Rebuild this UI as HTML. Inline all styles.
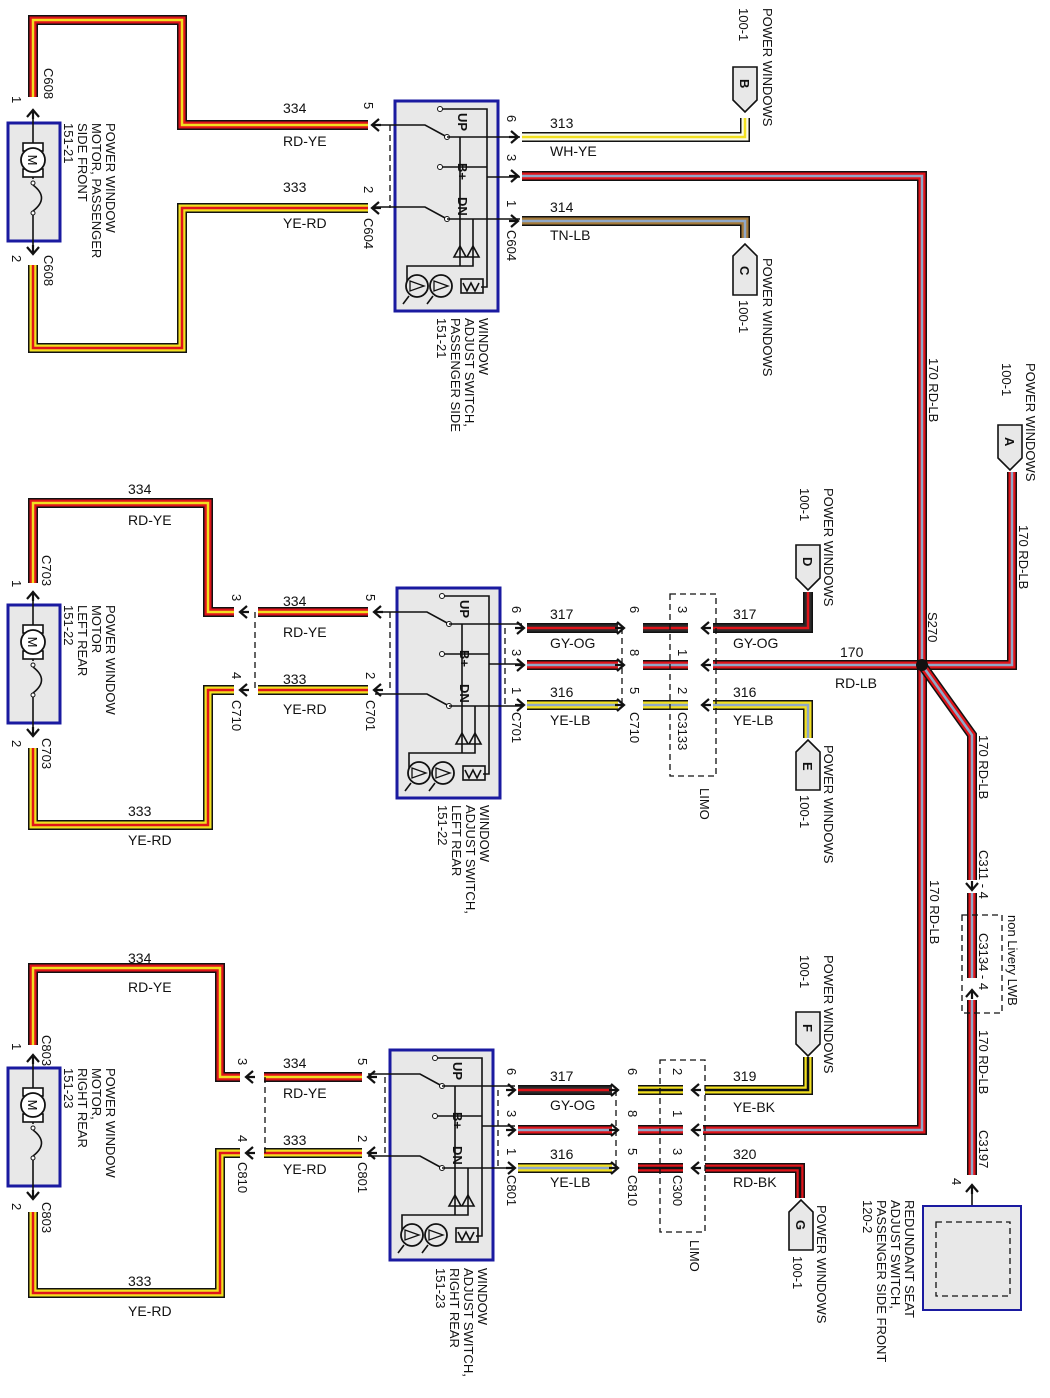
<!DOCTYPE html>
<html><head><meta charset="utf-8">
<style>
html,body{margin:0;padding:0;background:#fff;}
svg{display:block;font-family:"Liberation Sans",Arial,sans-serif;}
.k{fill:none;stroke:#111;stroke-width:10;stroke-linejoin:miter}
.rd{fill:none;stroke:#e0141a;stroke-width:7}
.ye{fill:none;stroke:#f2e020;stroke-width:7}
.wh{fill:none;stroke:#fbfbe8;stroke-width:7}
.tn{fill:none;stroke:#a47a3a;stroke-width:7}
.gy{fill:none;stroke:#2a2a2a;stroke-width:7}
.bk{fill:none;stroke:#111;stroke-width:7}
.sy{fill:none;stroke:#f2e020;stroke-width:2.5}
.sr{fill:none;stroke:#e0141a;stroke-width:2.5}
.sl{fill:none;stroke:#8fa8c8;stroke-width:2.5}
.sb{fill:none;stroke:#111;stroke-width:2.5}
.ln{fill:none;stroke:#111;stroke-width:1.6}
.ds{fill:none;stroke:#111;stroke-width:1.3;stroke-dasharray:6,4}
.box{fill:#e8e8e8;stroke:#1a1aa0;stroke-width:3}
.t{font-size:14px;fill:#111}
.r{font-size:13px;fill:#111}
</style></head><body>
<svg width="1050" height="1398" viewBox="0 0 1050 1398" xmlns="http://www.w3.org/2000/svg">
<defs>
<path id="ar" d="M-7,-6 L0,0 L-7,6 M0,0 H-9" fill="none" stroke="#111" stroke-width="2.2"/>
<g id="motor">
 <rect x="0" y="0" width="52" height="118" class="box"/>
 <line x1="25" y1="-12" x2="25" y2="130" class="ln"/>
 <rect x="15" y="20" width="20" height="8" fill="#fff" stroke="#111" stroke-width="1.6"/>
 <rect x="15" y="46" width="20" height="8" fill="#fff" stroke="#111" stroke-width="1.6"/>
 <circle cx="25" cy="37" r="12" fill="#fff" stroke="#111" stroke-width="1.8"/>
 <text x="25" y="42" font-size="13" text-anchor="middle" transform="rotate(90 25 37)">M</text>
 <rect x="20" y="56" width="10" height="35" fill="#e8e8e8"/>
 <circle cx="25" cy="60" r="2" fill="#fff" stroke="#111"/>
 <circle cx="25" cy="90" r="2" fill="#fff" stroke="#111"/>
 <path d="M25,62 Q42,75 25,88" class="ln"/>
</g>
<g id="sw">
 <rect x="0" y="0" width="103" height="210" class="box"/>
 <path d="M-22,24 H30 L52,36 M-22,106 H30 L52,118" class="ln"/>
 <circle cx="52" cy="36" r="2.5" fill="#fff" stroke="#111"/>
 <circle cx="52" cy="118" r="2.5" fill="#fff" stroke="#111"/>
 <path d="M52,36 H125 M52,118 H125 M92,76 H125" class="ln"/>
 <circle cx="45" cy="8" r="2.5" fill="#fff" stroke="#111"/>
 <circle cx="45" cy="66" r="2.5" fill="#fff" stroke="#111"/>
 <path d="M47,8 H92 V186 H86 M47,66 H92 M65,36 V165 M78,118 V165 H65 M65,165 H12 V180" class="ln"/>
 <path d="M59,156 H71 L65,145 Z M72,156 H84 L78,145 Z" fill="none" stroke="#111" stroke-width="1.6"/>
 <rect x="66" y="178" width="22" height="14" fill="none" stroke="#111" stroke-width="1.6"/>
 <path d="M68,182 L72,190 L76,182 L80,190 L84,182" class="ln"/>
 <circle cx="22" cy="185" r="11" fill="none" stroke="#111" stroke-width="1.8"/>
 <circle cx="46" cy="185" r="11" fill="none" stroke="#111" stroke-width="1.8"/>
 <path d="M15,180 L29,185 L15,190 Z M39,180 L53,185 L39,190 Z" fill="none" stroke="#111" stroke-width="1.3"/>
 <path d="M14,195 L8,203 M38,195 L32,203" class="ln"/>
 <text class="r" font-weight="bold" transform="translate(63,12) rotate(90)">UP</text>
 <text class="r" font-weight="bold" transform="translate(63,62) rotate(90)">B+</text>
 <text class="r" font-weight="bold" transform="translate(63,96) rotate(90)">DN</text>
</g>
<path id="a1" d="M33,97 V20 H182 V125 H368"/>
<path id="a2" d="M33,265 V348 H182 V208 H368"/>
<path id="a3" d="M522,137 H745 V118"/>
<path id="a4" d="M522,176 H922 V1130 H703"/>
<path id="a5" d="M522,221 H745 V238"/>
<path id="b1" d="M33,583 V503 H208 V612 H234 M258,612 H368"/>
<path id="b2" d="M33,748 V825 H208 V690 H234 M258,690 H368"/>
<path id="b3" d="M527,628 H618 M643,628 H688 M713,628 H808 V592"/>
<path id="b4" d="M527,665 H618 M643,665 H688 M713,665 H1012 V472"/>
<path id="b5" d="M527,705 H618 M643,705 H688 M713,705 H808 V738"/>
<path id="b6" d="M922,665 L972,735 V880 M972,893 V978 M972,1000 V1175"/>
<path id="c1" d="M33,1045 V968 H220 V1077 H240 M264,1077 H362"/>
<path id="c2" d="M33,1212 V1293 H220 V1153 H240 M264,1153 H362"/>
<path id="c3" d="M518,1090 H612"/>
<path id="c3b" d="M638,1090 H683 M705,1090 H808 V1057"/>
<path id="c4" d="M518,1130 H612 M638,1130 H683"/>
<path id="c5" d="M518,1168 H612"/>
<path id="c6" d="M638,1168 H683 M705,1168 H800 V1198"/>
</defs>

<!-- ========== SECTION 1 ========== -->
<use href="#a1" class="k"/><use href="#a1" class="rd"/><use href="#a1" class="sy"/>
<use href="#a2" class="k"/><use href="#a2" class="ye"/><use href="#a2" class="sr"/>
<use href="#a3" class="k"/><use href="#a3" class="wh"/><use href="#a3" class="sy"/>
<use href="#a4" class="k"/><use href="#a4" class="rd"/><use href="#a4" class="sl"/>
<use href="#a5" class="k"/><use href="#a5" class="tn"/><use href="#a5" class="sl"/>

<use href="#motor" x="8" y="123"/>
<use href="#ar" transform="translate(33,110) rotate(-90)"/>
<use href="#ar" transform="translate(33,254) rotate(90)"/>
<use href="#sw" x="395" y="101"/>
<use href="#ar" transform="translate(372,125) rotate(180)"/>
<use href="#ar" transform="translate(372,208) rotate(180)"/>
<use href="#ar" transform="translate(518,137)"/>
<use href="#ar" transform="translate(518,176)"/>
<use href="#ar" transform="translate(518,221)"/>
<path d="M390,125 V208" class="ds"/>

<text class="t" x="283" y="113">334</text><text class="t" x="283" y="146">RD-YE</text>
<text class="t" x="283" y="192">333</text><text class="t" x="283" y="228">YE-RD</text>
<text class="t" x="550" y="128">313</text><text class="t" x="550" y="156">WH-YE</text>
<text class="t" x="550" y="212">314</text><text class="t" x="550" y="240">TN-LB</text>
<text class="r" transform="translate(44,68) rotate(90)">C608</text>
<text class="r" transform="translate(44,255) rotate(90)">C608</text>
<text class="r" transform="translate(12,96) rotate(90)">1</text>
<text class="r" transform="translate(12,255) rotate(90)">2</text>
<text class="r" transform="translate(106,123) rotate(90)">POWER WINDOW<tspan x="0" dy="14">MOTOR, PASSENGER</tspan><tspan x="0" dy="14">SIDE FRONT</tspan><tspan x="0" dy="14">151-21</tspan></text>
<text class="r" transform="translate(364,102) rotate(90)">5</text>
<text class="r" transform="translate(364,186) rotate(90)">2</text>
<text class="r" transform="translate(364,218) rotate(90)">C604</text>
<text class="r" transform="translate(507,115) rotate(90)">6</text>
<text class="r" transform="translate(507,154) rotate(90)">3</text>
<text class="r" transform="translate(507,200) rotate(90)">1</text>
<text class="r" transform="translate(507,230) rotate(90)">C604</text>
<text class="r" transform="translate(479,318) rotate(90)">WINDOW<tspan x="0" dy="14">ADJUST SWITCH,</tspan><tspan x="0" dy="14">PASSENGER SIDE</tspan><tspan x="0" dy="14">151-21</tspan></text>
<path d="M733,67 H757 V100 L745,112 L733,100 Z" fill="#e8e8e8" stroke="#111" stroke-width="1.6"/>
<text class="r" font-weight="bold" transform="translate(740,79) rotate(90)">B</text>
<text class="r" transform="translate(763,8) rotate(90)">POWER WINDOWS</text>
<text class="r" transform="translate(739,8) rotate(90)">100-1</text>
<path d="M733,295 H757 V256 L745,244 L733,256 Z" fill="#e8e8e8" stroke="#111" stroke-width="1.6"/>
<text class="r" font-weight="bold" transform="translate(740,266) rotate(90)">C</text>
<text class="r" transform="translate(763,258) rotate(90)">POWER WINDOWS</text>
<text class="r" transform="translate(739,300) rotate(90)">100-1</text>
<text class="r" transform="translate(929,358) rotate(90)">170  RD-LB</text>

<!-- ========== SECTION 2 ========== -->
<use href="#b1" class="k"/><use href="#b1" class="rd"/><use href="#b1" class="sy"/>
<use href="#b2" class="k"/><use href="#b2" class="ye"/><use href="#b2" class="sr"/>
<use href="#b3" class="k"/><use href="#b3" class="gy"/><use href="#b3" class="sr"/>
<use href="#b4" class="k"/><use href="#b4" class="rd"/><use href="#b4" class="sl"/>
<use href="#b5" class="k"/><use href="#b5" class="ye"/><use href="#b5" class="sl"/>
<use href="#b6" class="k"/><use href="#b6" class="rd"/><use href="#b6" class="sl"/>
<circle cx="922" cy="665" r="6" fill="#111"/>

<use href="#motor" x="8" y="605"/>
<use href="#ar" transform="translate(33,592) rotate(-90)"/>
<use href="#ar" transform="translate(33,736) rotate(90)"/>
<use href="#sw" x="397" y="588"/>
<use href="#ar" transform="translate(240,612) rotate(180)"/>
<use href="#ar" transform="translate(240,690) rotate(180)"/>
<use href="#ar" transform="translate(374,612) rotate(180)"/>
<use href="#ar" transform="translate(374,690) rotate(180)"/>
<use href="#ar" transform="translate(524,628)"/>
<use href="#ar" transform="translate(524,665)"/>
<use href="#ar" transform="translate(524,705)"/>
<use href="#ar" transform="translate(624,628)"/>
<use href="#ar" transform="translate(624,665)"/>
<use href="#ar" transform="translate(624,705)"/>
<use href="#ar" transform="translate(702,628) rotate(180)"/>
<use href="#ar" transform="translate(702,665) rotate(180)"/>
<use href="#ar" transform="translate(702,705) rotate(180)"/>
<path d="M255,612 V690 M390,612 V690 M505,628 V705 M622,628 V705" class="ds"/>
<rect x="670" y="594" width="46" height="182" class="ds"/>

<text class="t" x="128" y="494">334</text><text class="t" x="128" y="525">RD-YE</text>
<text class="t" x="128" y="816">333</text><text class="t" x="128" y="845">YE-RD</text>
<text class="t" x="283" y="606">334</text><text class="t" x="283" y="637">RD-YE</text>
<text class="t" x="283" y="684">333</text><text class="t" x="283" y="714">YE-RD</text>
<text class="t" x="550" y="619">317</text><text class="t" x="550" y="648">GY-OG</text>
<text class="t" x="550" y="697">316</text><text class="t" x="550" y="725">YE-LB</text>
<text class="t" x="733" y="619">317</text><text class="t" x="733" y="648">GY-OG</text>
<text class="t" x="733" y="697">316</text><text class="t" x="733" y="725">YE-LB</text>
<text class="t" x="840" y="657">170</text><text class="t" x="835" y="688">RD-LB</text>
<text class="r" transform="translate(42,555) rotate(90)">C703</text>
<text class="r" transform="translate(42,738) rotate(90)">C703</text>
<text class="r" transform="translate(12,580) rotate(90)">1</text>
<text class="r" transform="translate(12,740) rotate(90)">2</text>
<text class="r" transform="translate(106,605) rotate(90)">POWER WINDOW<tspan x="0" dy="14">MOTOR</tspan><tspan x="0" dy="14">LEFT REAR</tspan><tspan x="0" dy="14">151-22</tspan></text>
<text class="r" transform="translate(232,594) rotate(90)">3</text>
<text class="r" transform="translate(232,672) rotate(90)">4</text>
<text class="r" transform="translate(232,700) rotate(90)">C710</text>
<text class="r" transform="translate(366,594) rotate(90)">5</text>
<text class="r" transform="translate(366,672) rotate(90)">2</text>
<text class="r" transform="translate(366,700) rotate(90)">C701</text>
<text class="r" transform="translate(512,606) rotate(90)">6</text>
<text class="r" transform="translate(512,649) rotate(90)">3</text>
<text class="r" transform="translate(512,687) rotate(90)">1</text>
<text class="r" transform="translate(512,712) rotate(90)">C701</text>
<text class="r" transform="translate(630,606) rotate(90)">6</text>
<text class="r" transform="translate(630,649) rotate(90)">8</text>
<text class="r" transform="translate(630,687) rotate(90)">5</text>
<text class="r" transform="translate(630,712) rotate(90)">C710</text>
<text class="r" transform="translate(678,606) rotate(90)">3</text>
<text class="r" transform="translate(678,649) rotate(90)">1</text>
<text class="r" transform="translate(678,687) rotate(90)">2</text>
<text class="r" transform="translate(678,712) rotate(90)">C3133</text>
<text class="r" transform="translate(700,788) rotate(90)">LIMO</text>
<text class="r" transform="translate(480,805) rotate(90)">WINDOW<tspan x="0" dy="14">ADJUST SWITCH,</tspan><tspan x="0" dy="14">LEFT REAR</tspan><tspan x="0" dy="14">151-22</tspan></text>
<path d="M796,545 H820 V578 L808,590 L796,578 Z" fill="#e8e8e8" stroke="#111" stroke-width="1.6"/>
<text class="r" font-weight="bold" transform="translate(803,557) rotate(90)">D</text>
<text class="r" transform="translate(824,488) rotate(90)">POWER WINDOWS</text>
<text class="r" transform="translate(800,488) rotate(90)">100-1</text>
<path d="M796,790 H820 V752 L808,740 L796,752 Z" fill="#e8e8e8" stroke="#111" stroke-width="1.6"/>
<text class="r" font-weight="bold" transform="translate(803,762) rotate(90)">E</text>
<text class="r" transform="translate(824,745) rotate(90)">POWER WINDOWS</text>
<text class="r" transform="translate(800,795) rotate(90)">100-1</text>
<text class="r" transform="translate(928,612) rotate(90)">S270</text>
<path d="M998,425 H1022 V458 L1010,470 L998,458 Z" fill="#e8e8e8" stroke="#111" stroke-width="1.6"/>
<text class="r" font-weight="bold" transform="translate(1005,437) rotate(90)">A</text>
<text class="r" transform="translate(1026,363) rotate(90)">POWER WINDOWS</text>
<text class="r" transform="translate(1002,363) rotate(90)">100-1</text>
<text class="r" transform="translate(1019,525) rotate(90)">170  RD-LB</text>
<text class="r" transform="translate(979,735) rotate(90)">170  RD-LB</text>
<text class="r" transform="translate(979,850) rotate(90)">C311 - 4</text>
<use href="#ar" transform="translate(972,890) rotate(90)"/>
<rect x="962" y="915" width="40" height="98" class="ds"/>
<use href="#ar" transform="translate(972,990) rotate(-90)"/>
<text class="r" transform="translate(1008,915) rotate(90)">non Livery LWB</text>
<text class="r" transform="translate(979,933) rotate(90)">C3134 - 4</text>
<text class="r" transform="translate(979,1030) rotate(90)">170  RD-LB</text>
<text class="r" transform="translate(979,1130) rotate(90)">C3197</text>
<text class="r" transform="translate(952,1178) rotate(90)">4</text>
<text class="r" transform="translate(930,880) rotate(90)">170  RD-LB</text>
<use href="#ar" transform="translate(972,1185) rotate(-90)"/>
<path d="M972,1185 V1222" class="ln"/>
<rect x="923" y="1206" width="98" height="104" fill="#e8e8e8" stroke="#1a1aa0" stroke-width="2"/>
<rect x="936" y="1222" width="74" height="74" class="ds" stroke-width="1.6"/>
<text class="r" transform="translate(905,1200) rotate(90)">REDUNDANT SEAT<tspan x="0" dy="14">ADJUST SWITCH,</tspan><tspan x="0" dy="14">PASSENGER SIDE FRONT</tspan><tspan x="0" dy="14">120-2</tspan></text>

<!-- ========== SECTION 3 ========== -->
<use href="#c1" class="k"/><use href="#c1" class="rd"/><use href="#c1" class="sy"/>
<use href="#c2" class="k"/><use href="#c2" class="ye"/><use href="#c2" class="sr"/>
<use href="#c3" class="k"/><use href="#c3" class="gy"/><use href="#c3" class="sr"/>
<use href="#c3b" class="k"/><use href="#c3b" class="ye"/><use href="#c3b" class="sb"/>
<use href="#c4" class="k"/><use href="#c4" class="rd"/><use href="#c4" class="sl"/>
<use href="#c5" class="k"/><use href="#c5" class="ye"/><use href="#c5" class="sl"/>
<use href="#c6" class="k"/><use href="#c6" class="rd"/><use href="#c6" class="sb"/>

<use href="#motor" x="8" y="1068"/>
<use href="#ar" transform="translate(33,1055) rotate(-90)"/>
<use href="#ar" transform="translate(33,1199) rotate(90)"/>
<use href="#sw" x="390" y="1050"/>
<use href="#ar" transform="translate(246,1077) rotate(180)"/>
<use href="#ar" transform="translate(246,1153) rotate(180)"/>
<use href="#ar" transform="translate(368,1077) rotate(180)"/>
<use href="#ar" transform="translate(368,1153) rotate(180)"/>
<use href="#ar" transform="translate(515,1090)"/>
<use href="#ar" transform="translate(515,1130)"/>
<use href="#ar" transform="translate(515,1168)"/>
<use href="#ar" transform="translate(618,1090)"/>
<use href="#ar" transform="translate(618,1130)"/>
<use href="#ar" transform="translate(618,1168)"/>
<use href="#ar" transform="translate(692,1090) rotate(180)"/>
<use href="#ar" transform="translate(692,1130) rotate(180)"/>
<use href="#ar" transform="translate(692,1168) rotate(180)"/>
<path d="M265,1077 V1153 M385,1077 V1153 M498,1090 V1168 M616,1090 V1168" class="ds"/>
<rect x="660" y="1060" width="45" height="172" class="ds"/>

<text class="t" x="128" y="963">334</text><text class="t" x="128" y="992">RD-YE</text>
<text class="t" x="128" y="1286">333</text><text class="t" x="128" y="1316">YE-RD</text>
<text class="t" x="283" y="1068">334</text><text class="t" x="283" y="1098">RD-YE</text>
<text class="t" x="283" y="1145">333</text><text class="t" x="283" y="1174">YE-RD</text>
<text class="t" x="550" y="1081">317</text><text class="t" x="550" y="1110">GY-OG</text>
<text class="t" x="550" y="1159">316</text><text class="t" x="550" y="1187">YE-LB</text>
<text class="t" x="733" y="1081">319</text><text class="t" x="733" y="1112">YE-BK</text>
<text class="t" x="733" y="1159">320</text><text class="t" x="733" y="1187">RD-BK</text>
<text class="r" transform="translate(42,1035) rotate(90)">C803</text>
<text class="r" transform="translate(42,1202) rotate(90)">C803</text>
<text class="r" transform="translate(12,1043) rotate(90)">1</text>
<text class="r" transform="translate(12,1203) rotate(90)">2</text>
<text class="r" transform="translate(106,1068) rotate(90)">POWER WINDOW<tspan x="0" dy="14">MOTOR,</tspan><tspan x="0" dy="14">RIGHT REAR</tspan><tspan x="0" dy="14">151-23</tspan></text>
<text class="r" transform="translate(238,1058) rotate(90)">3</text>
<text class="r" transform="translate(238,1135) rotate(90)">4</text>
<text class="r" transform="translate(238,1162) rotate(90)">C810</text>
<text class="r" transform="translate(358,1058) rotate(90)">5</text>
<text class="r" transform="translate(358,1135) rotate(90)">2</text>
<text class="r" transform="translate(358,1162) rotate(90)">C801</text>
<text class="r" transform="translate(507,1068) rotate(90)">6</text>
<text class="r" transform="translate(507,1110) rotate(90)">3</text>
<text class="r" transform="translate(507,1148) rotate(90)">1</text>
<text class="r" transform="translate(507,1175) rotate(90)">C801</text>
<text class="r" transform="translate(628,1068) rotate(90)">6</text>
<text class="r" transform="translate(628,1110) rotate(90)">8</text>
<text class="r" transform="translate(628,1148) rotate(90)">5</text>
<text class="r" transform="translate(628,1175) rotate(90)">C810</text>
<text class="r" transform="translate(673,1068) rotate(90)">2</text>
<text class="r" transform="translate(673,1110) rotate(90)">1</text>
<text class="r" transform="translate(673,1148) rotate(90)">3</text>
<text class="r" transform="translate(673,1175) rotate(90)">C300</text>
<text class="r" transform="translate(690,1240) rotate(90)">LIMO</text>
<text class="r" transform="translate(478,1268) rotate(90)">WINDOW<tspan x="0" dy="14">ADJUST SWITCH,</tspan><tspan x="0" dy="14">RIGHT REAR</tspan><tspan x="0" dy="14">151-23</tspan></text>
<path d="M796,1012 H820 V1044 L808,1056 L796,1044 Z" fill="#e8e8e8" stroke="#111" stroke-width="1.6"/>
<text class="r" font-weight="bold" transform="translate(803,1024) rotate(90)">F</text>
<text class="r" transform="translate(824,955) rotate(90)">POWER WINDOWS</text>
<text class="r" transform="translate(800,955) rotate(90)">100-1</text>
<path d="M789,1250 H813 V1212 L801,1200 L789,1212 Z" fill="#e8e8e8" stroke="#111" stroke-width="1.6"/>
<text class="r" font-weight="bold" transform="translate(796,1220) rotate(90)">G</text>
<text class="r" transform="translate(817,1205) rotate(90)">POWER WINDOWS</text>
<text class="r" transform="translate(793,1256) rotate(90)">100-1</text>
</svg>
</body></html>
